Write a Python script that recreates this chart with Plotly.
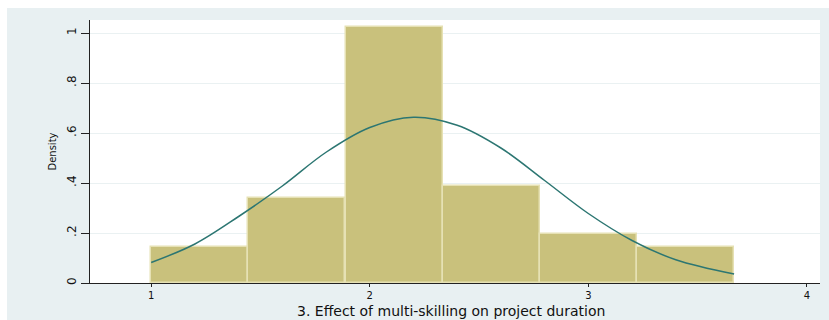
import plotly.graph_objects as go

# Histogram bins (left edges) and densities
bin_left = [1.0, 1.444, 1.889, 2.333, 2.778, 3.222]
bin_width = 0.4444
density = [0.146, 0.340, 1.026, 0.390, 0.196, 0.146]

# Normal density overlay
curve_x = [1.0, 1.2, 1.4, 1.6, 1.8, 2.0, 2.2, 2.4, 2.6, 2.8, 3.0, 3.2, 3.4, 3.667]
curve_y = [0.082, 0.156, 0.266, 0.388, 0.523, 0.622, 0.663, 0.631, 0.540, 0.410, 0.278, 0.170, 0.093, 0.036]

x_ticks = [1, 2, 3, 4]
y_ticks = [0, 0.2, 0.4, 0.6, 0.8, 1.0]
y_ticktext = ["0", ".2", ".4", ".6", ".8", "1"]

x_title = "3. Effect of multi-skilling on project duration"
y_title = "Density"

BG = "#e8f0f2"
BAR = "#c9c17c"
BAR_LINE = "#e6e1b4"
CURVE = "#2c7672"

fig = go.Figure()
fig.add_trace(go.Bar(
    x=bin_left, y=density, width=[bin_width] * len(bin_left), offset=0,
    marker=dict(color=BAR, line=dict(color=BAR_LINE, width=1.5)),
    showlegend=False, hoverinfo="skip",
))
fig.add_trace(go.Scatter(
    x=curve_x, y=curve_y, mode="lines",
    line=dict(color=CURVE, width=1.5, shape="spline"),
    showlegend=False, hoverinfo="skip",
))

fig.update_layout(
    width=829, height=320,
    margin=dict(l=90, r=9, t=20, b=37),
    paper_bgcolor=BG, plot_bgcolor="white",
    font=dict(family="DejaVu Sans", color="#111111"),
    bargap=0,
    shapes=[
        dict(type="rect", xref="paper", yref="paper", x0=-0.2, x1=(7 - 90) / 730,
             y0=-0.3, y1=1.2, fillcolor="white", line=dict(width=0), layer="above"),
        dict(type="rect", xref="paper", yref="paper", x0=-0.2, x1=1.2,
             y0=(283 - 8) / 263, y1=1.3, fillcolor="white", line=dict(width=0), layer="above"),
    ],
    annotations=[
        dict(text=x_title, xref="paper", yref="paper", x=(451 - 90) / 730, y=(283 - 311) / 263,
             xanchor="center", yanchor="middle", showarrow=False,
             font=dict(size=14, family="DejaVu Sans", color="#111111")),
    ],
)
fig.update_xaxes(
    range=[0.72, 4.06], tickvals=x_ticks, ticks="outside", ticklen=3,
    tickcolor="#222222", showline=True, linecolor="#222222", linewidth=1,
    showgrid=False, zeroline=False, automargin=False,
    tickfont=dict(size=10, family="DejaVu Sans", color="#111111"),
)
fig.update_yaxes(
    range=[0, 1.052], tickvals=y_ticks, ticktext=y_ticktext, tickangle=-90,
    ticks="outside", ticklen=8, tickcolor="#222222",
    showline=True, linecolor="#222222", linewidth=1,
    showgrid=True, gridcolor="#eaf1f2", gridwidth=1, zeroline=False, automargin=False,
    tickfont=dict(size=12, family="DejaVu Sans"),
    title=dict(text=y_title, font=dict(size=10, family="DejaVu Sans"), standoff=6),
)

fig.write_html("out.html")
